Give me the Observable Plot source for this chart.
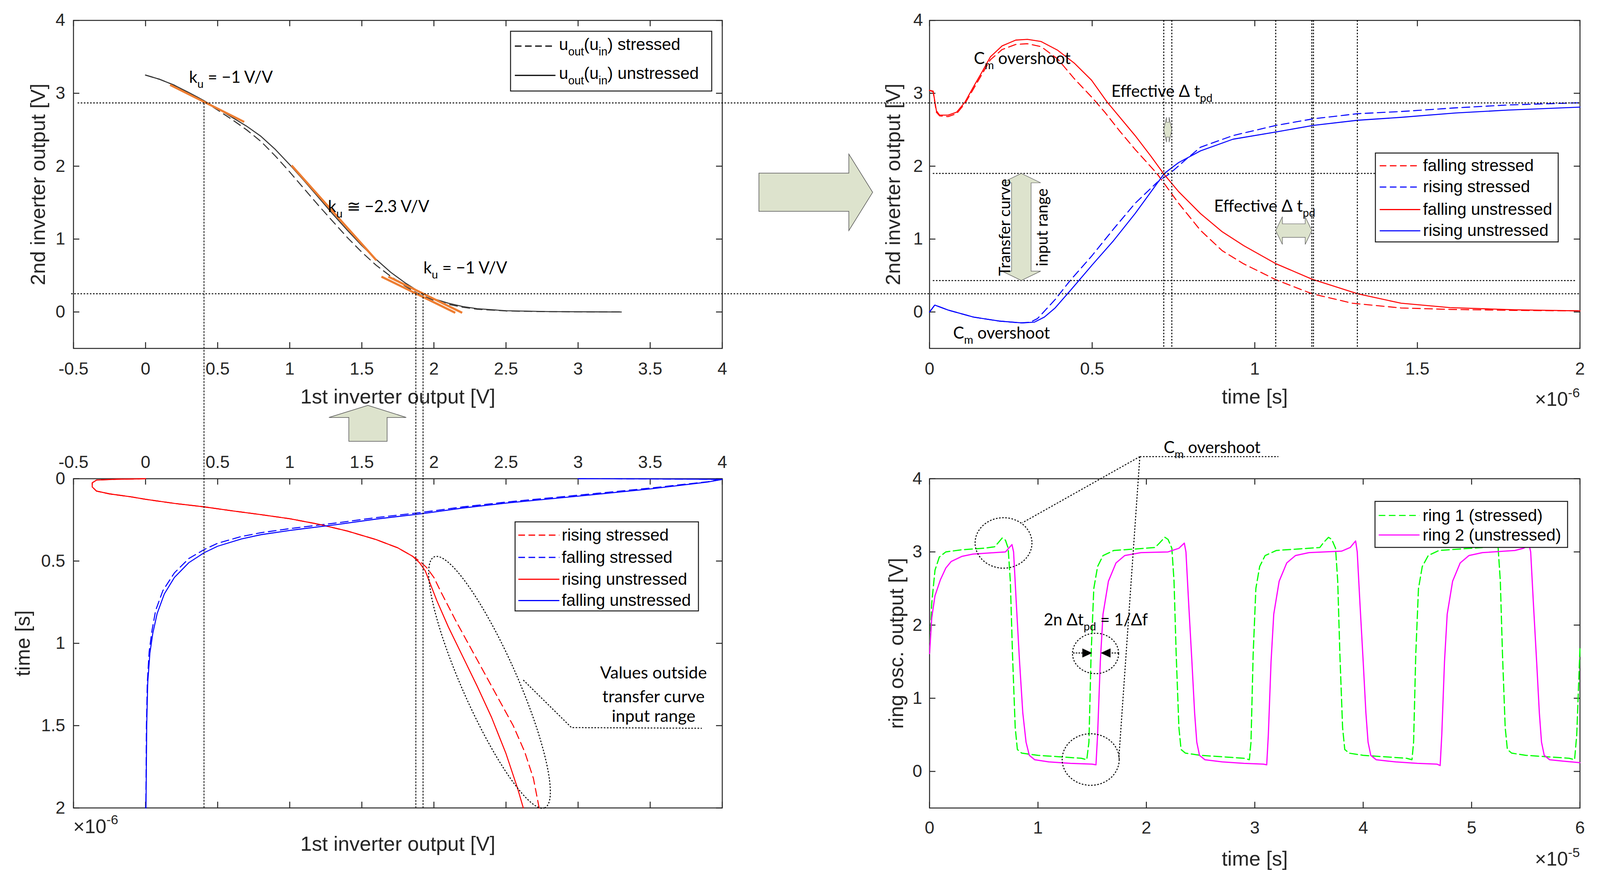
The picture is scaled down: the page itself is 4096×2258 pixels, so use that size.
<!DOCTYPE html>
<html><head><meta charset="utf-8">
<script src="https://cdn.jsdelivr.net/npm/d3@7"></script>
<script src="https://cdn.jsdelivr.net/npm/@observablehq/plot@0.6"></script>
<style>
html,body{margin:0;padding:0;background:#fff;}
#root{position:relative;width:4096px;height:2258px;overflow:hidden;background:#fff;}
#root svg{position:absolute;max-width:none;overflow:visible;}
</style></head><body><div id="root"></div>
<script>
// ---------- Panel 1: transfer curves ----------
const uIn = [0,0.1,0.2,0.3,0.4,0.5,0.6,0.7,0.8,0.9,1.0,1.1,1.2,1.3,1.4,1.5,1.6,1.7,1.8,1.9,2.0,2.1,2.2,2.3,2.5,2.8,3.3];
const uOutUnstressed = [3.25,3.19,3.11,3.01,2.905,2.79,2.67,2.55,2.41,2.23,2.02,1.80,1.57,1.34,1.12,0.91,0.72,0.545,0.40,0.275,0.18,0.12,0.075,0.045,0.017,0.005,0];
const uOutStressed   = [3.25,3.19,3.11,3.00,2.895,2.77,2.64,2.50,2.34,2.14,1.92,1.69,1.46,1.24,1.02,0.82,0.64,0.49,0.355,0.24,0.16,0.105,0.065,0.038,0.014,0.004,0];
const tangents = [
  {x1:0.17, y1:3.116, x2:0.684, y2:2.607},
  {x1:1.013, y1:2.01, x2:1.601, y2:0.709},
  {x1:1.636, y1:0.485, x2:2.148, y2:-0.011},
  {x1:1.684, y1:0.485, x2:2.196, y2:-0.011}
];
const p1xTicks = [-0.5,0,0.5,1,1.5,2,2.5,3,3.5,4];
const p1yTicks = [0,1,2,3,4];

// ---------- Panel 2: transients (time in 1e-6 s) ----------
const fallingUnstressed = [[0,3.04],[0.011,3.03],[0.021,2.76],[0.031,2.70],[0.057,2.70],[0.083,2.74],[0.109,2.88],[0.135,3.09],[0.161,3.29],[0.187,3.50],[0.223,3.65],[0.265,3.73],[0.301,3.74],[0.343,3.71],[0.394,3.59],[0.446,3.41],[0.498,3.18],[0.546,2.88],[0.602,2.58],[0.632,2.42],[0.68,2.14],[0.719,1.90],[0.766,1.65],[0.833,1.35],[0.9,1.10],[0.966,0.91],[1.066,0.66],[1.176,0.45],[1.316,0.25],[1.45,0.12],[1.6,0.06],[1.8,0.03],[2.0,0.015]];
const fallingStressed = [[0,3.04],[0.011,3.02],[0.021,2.74],[0.031,2.69],[0.057,2.68],[0.083,2.72],[0.109,2.86],[0.135,3.06],[0.161,3.26],[0.187,3.46],[0.223,3.60],[0.265,3.67],[0.301,3.68],[0.343,3.64],[0.394,3.47],[0.445,3.20],[0.5,2.94],[0.539,2.74],[0.585,2.48],[0.632,2.23],[0.699,1.90],[0.766,1.49],[0.833,1.12],[0.9,0.84],[0.966,0.66],[1.066,0.44],[1.176,0.25],[1.3,0.12],[1.45,0.055],[1.6,0.035],[1.8,0.022],[2.0,0.015]];
const risingUnstressed = [[0,0],[0.016,0.095],[0.057,0.026],[0.135,-0.07],[0.213,-0.124],[0.285,-0.15],[0.322,-0.14],[0.353,-0.07],[0.386,0.055],[0.432,0.29],[0.499,0.64],[0.566,0.98],[0.632,1.35],[0.722,1.90],[0.745,1.98],[0.766,2.05],[0.833,2.21],[0.933,2.37],[1.066,2.47],[1.18,2.56],[1.316,2.63],[1.45,2.67],[1.617,2.73],[1.78,2.77],[2.0,2.81]];
const risingStressed = [[0,0],[0.016,0.095],[0.057,0.026],[0.135,-0.07],[0.213,-0.124],[0.28,-0.15],[0.31,-0.14],[0.332,-0.09],[0.386,0.17],[0.432,0.43],[0.499,0.77],[0.566,1.14],[0.632,1.49],[0.7,1.78],[0.739,1.90],[0.785,2.08],[0.833,2.26],[0.933,2.42],[1.066,2.56],[1.18,2.65],[1.316,2.72],[1.45,2.75],[1.617,2.80],[1.78,2.84],[2.0,2.87]];
const p2xTicks = [0,0.5,1,1.5,2];
const p2yTicks = [0,1,2,3,4];
const p2Verticals = [0.7207,0.7455,1.065,1.176,1.181,1.316];

// ---------- Panel 3: 1st inverter output vs time ----------
const p3RisingUnstressed = [[0,0],[-0.2,0.003],[-0.34,0.008],[-0.37,0.025],[-0.37,0.05],[-0.34,0.075],[-0.25,0.092],[-0.1,0.11],[0,0.125],[0.2,0.15],[0.407,0.171],[0.6,0.195],[0.8,0.218],[1.0,0.243],[1.2,0.276],[1.4,0.318],[1.6,0.37],[1.75,0.42],[1.85,0.47],[1.9,0.51],[1.94,0.56],[1.98,0.65],[2.02,0.74],[2.1,0.9],[2.2,1.08],[2.3,1.26],[2.4,1.45],[2.5,1.67],[2.58,1.88],[2.62,2.0]];
const p3RisingStressed = [[0,0],[-0.2,0.003],[-0.34,0.008],[-0.37,0.025],[-0.37,0.05],[-0.34,0.075],[-0.25,0.092],[-0.1,0.11],[0,0.125],[0.2,0.15],[0.407,0.171],[0.6,0.195],[0.8,0.218],[1.0,0.243],[1.2,0.276],[1.4,0.318],[1.6,0.37],[1.75,0.42],[1.85,0.47],[1.9,0.5],[1.95,0.54],[2.0,0.6],[2.05,0.69],[2.15,0.86],[2.25,1.02],[2.35,1.18],[2.45,1.34],[2.55,1.5],[2.63,1.66],[2.69,1.82],[2.73,2.0]];
const p3FallingUnstressed = [[3.0,0],[3.5,0.001],[4.0,0.004],[3.9,0.02],[3.5,0.062],[3.0,0.106],[2.5,0.148],[2.2,0.178],[1.92,0.212],[1.6,0.245],[1.33,0.278],[1.0,0.314],[0.8,0.34],[0.665,0.366],[0.5,0.41],[0.407,0.449],[0.3,0.51],[0.2,0.6],[0.13,0.7],[0.08,0.82],[0.05,0.94],[0.03,1.06],[0.015,1.24],[0.008,1.5],[0.003,2.0]];
const p3FallingStressed = [[3.0,0],[3.5,0.001],[4.0,0.004],[3.9,0.018],[3.5,0.057],[3.0,0.1],[2.5,0.142],[2.2,0.171],[1.92,0.204],[1.6,0.236],[1.33,0.268],[1.0,0.303],[0.8,0.328],[0.665,0.351],[0.5,0.392],[0.407,0.43],[0.3,0.485],[0.2,0.572],[0.12,0.68],[0.07,0.8],[0.045,0.92],[0.025,1.05],[0.012,1.24],[0.006,1.5],[0.002,2.0]];
const p3xTicks = [-0.5,0,0.5,1,1.5,2,2.5,3,3.5,4];
const p3yTicks = [0,0.5,1,1.5,2];

// ---------- Panel 4: ring oscillators (time in 1e-5 s) ----------
const ring1 = [[0,1.61],[0.02,2.3],[0.05,2.75],[0.09,2.93],[0.15,3.0],[0.3,3.03],[0.5,3.05],[0.6,3.07],[0.63,3.12],[0.67,3.19],[0.7,3.16],[0.725,3.05],
 [0.745,2.6],[0.765,1.6],[0.79,0.6],[0.81,0.3],[0.85,0.25],[1.0,0.22],[1.2,0.2],[1.4,0.18],[1.45,0.16],
 [1.47,0.4],[1.49,1.6],[1.515,2.5],[1.55,2.8],[1.6,2.95],[1.7,3.02],[1.9,3.04],[2.08,3.06],[2.12,3.12],[2.17,3.2],[2.2,3.17],[2.235,3.05],
 [2.255,2.6],[2.275,1.6],[2.3,0.6],[2.32,0.3],[2.36,0.25],[2.5,0.22],[2.7,0.2],[2.9,0.18],[2.95,0.16],
 [2.965,0.4],[2.985,1.6],[3.01,2.5],[3.045,2.8],[3.095,2.95],[3.2,3.02],[3.4,3.04],[3.6,3.06],[3.63,3.12],[3.68,3.2],[3.71,3.17],[3.745,3.05],
 [3.765,2.6],[3.785,1.6],[3.81,0.6],[3.83,0.3],[3.87,0.25],[4.0,0.22],[4.2,0.2],[4.4,0.18],[4.45,0.16],
 [4.465,0.4],[4.485,1.6],[4.51,2.5],[4.545,2.8],[4.6,2.95],[4.7,3.02],[4.9,3.04],[5.1,3.06],[5.13,3.12],[5.18,3.2],[5.21,3.17],[5.245,3.05],
 [5.265,2.6],[5.285,1.6],[5.31,0.6],[5.33,0.3],[5.37,0.25],[5.5,0.22],[5.7,0.2],[5.9,0.18],[5.95,0.16],
 [5.97,0.5],[5.99,1.3],[6.0,1.7]];
const ring2 = [[0,1.61],[0.02,2.1],[0.05,2.4],[0.1,2.62],[0.15,2.78],[0.2,2.87],[0.3,2.94],[0.4,2.97],[0.6,2.99],[0.7,3.0],[0.73,3.05],[0.76,3.1],[0.775,3.0],
 [0.8,2.3],[0.83,1.5],[0.86,0.8],[0.89,0.4],[0.92,0.22],[0.97,0.16],[1.1,0.13],[1.3,0.11],[1.5,0.1],[1.535,0.09],
 [1.55,0.5],[1.575,1.5],[1.6,2.15],[1.65,2.6],[1.72,2.85],[1.8,2.95],[1.95,2.99],[2.2,3.0],[2.3,3.05],[2.35,3.12],[2.365,3.0],
 [2.39,2.3],[2.42,1.5],[2.445,0.8],[2.465,0.4],[2.49,0.22],[2.54,0.16],[2.7,0.13],[2.9,0.11],[3.08,0.1],[3.11,0.09],
 [3.125,0.5],[3.15,1.5],[3.175,2.15],[3.225,2.6],[3.295,2.85],[3.375,2.95],[3.5,2.99],[3.8,3.01],[3.88,3.06],[3.93,3.15],[3.945,3.0],
 [3.97,2.3],[4.0,1.5],[4.025,0.8],[4.045,0.4],[4.07,0.22],[4.12,0.16],[4.3,0.13],[4.5,0.11],[4.68,0.1],[4.71,0.08],
 [4.725,0.5],[4.75,1.5],[4.775,2.15],[4.825,2.6],[4.895,2.85],[4.975,2.95],[5.1,2.99],[5.4,3.02],[5.48,3.05],[5.53,3.1],[5.545,3.0],
 [5.57,2.3],[5.6,1.5],[5.625,0.8],[5.645,0.4],[5.67,0.22],[5.72,0.16],[5.85,0.14],[6.0,0.12]];
const p4xTicks = [0,1,2,3,4,5,6];
const p4yTicks = [0,1,2,3,4];

// ---------- styling ----------
const FONT = "'Liberation Sans', Arial, Helvetica, sans-serif";
const AFONT = "Lato, 'Open Sans', sans-serif";
const AX = "#262626";
const TL = 15.5;
const TICKFS = 44.5, LABFS = 52.5;
const RED = "#ff0000", BLUE = "#0000ff", GREEN = "#00ff00", MAG = "#ff00ff", ORANGE = "#ed7d31";
const fmt = d => String(d);
const px = d => d[0], py = d => d[1];

function boxMarks(iw, ih, xt, yt) {
  return [
    Plot.tickX(xt, {x: d => d, insetTop: ih - TL, stroke: AX, strokeWidth: 2.5}),
    Plot.tickX(xt, {x: d => d, insetBottom: ih - TL, stroke: AX, strokeWidth: 2.5}),
    Plot.tickY(yt, {y: d => d, insetRight: iw - TL, stroke: AX, strokeWidth: 2.5}),
    Plot.tickY(yt, {y: d => d, insetLeft: iw - TL, stroke: AX, strokeWidth: 2.5}),
    Plot.frame({stroke: AX, strokeWidth: 2.5})
  ];
}
function xLabel(s, dy) { return Plot.text([s], {text: d => d, frameAnchor: "bottom", dy, textAnchor: "middle", lineAnchor: "bottom", fontSize: LABFS, fontFamily: FONT, fill: AX}); }
function yLabel(s, dx) { return Plot.text([s], {text: d => d, frameAnchor: "left", dx, rotate: -90, textAnchor: "middle", lineAnchor: "bottom", fontSize: LABFS, fontFamily: FONT, fill: AX}); }
const tickText = {tickSize: 0, tickFormat: fmt, label: null, fontSize: TICKFS, fontFamily: FONT, fill: AX};

// Panel 1
const G1 = {width: 2120, height: 1130, ml: 187.6, mr: 271.5, mt: 51.7, mb: 238.5};
const p1 = Plot.plot({
  width: G1.width, height: G1.height, marginLeft: G1.ml, marginRight: G1.mr, marginTop: G1.mt, marginBottom: G1.mb,
  x: {domain: [-0.5, 4]}, y: {domain: [-0.5, 4]},
  marks: [
    ...boxMarks(G1.width - G1.ml - G1.mr, G1.height - G1.mt - G1.mb, p1xTicks, p1yTicks),
    Plot.axisX(p1xTicks, {...tickText, anchor: "bottom", tickPadding: 35.5}),
    Plot.axisY(p1yTicks, {...tickText, anchor: "left", tickPadding: 21}),
    Plot.line(uIn, {x: d => d, y: (d, i) => uOutStressed[i], stroke: "#333", strokeWidth: 2.6, strokeDasharray: "20 12"}),
    Plot.line(uIn, {x: d => d, y: (d, i) => uOutUnstressed[i], stroke: "#333", strokeWidth: 2.6}),
    Plot.link(tangents, {x1: "x1", y1: "y1", x2: "x2", y2: "y2", stroke: ORANGE, strokeWidth: 5.5}),
    xLabel("1st inverter output [V]", 141),
    yLabel("2nd inverter output [V]", -73.6)
  ]
});

// Panel 2
const G2 = {width: 1976, height: 1130, ml: 259.2, mr: 51.7, mt: 51.7, mb: 238.5};
const p2 = Plot.plot({
  width: G2.width, height: G2.height, marginLeft: G2.ml, marginRight: G2.mr, marginTop: G2.mt, marginBottom: G2.mb,
  x: {domain: [0, 2]}, y: {domain: [-0.5, 4]},
  marks: [
    ...boxMarks(G2.width - G2.ml - G2.mr, G2.height - G2.mt - G2.mb, p2xTicks, p2yTicks),
    Plot.axisX(p2xTicks, {...tickText, anchor: "bottom", tickPadding: 35.5}),
    Plot.axisY(p2yTicks, {...tickText, anchor: "left", tickPadding: 17}),
    Plot.line(fallingStressed, {x: px, y: py, stroke: RED, strokeWidth: 2.6, strokeDasharray: "20 11"}),
    Plot.line(risingStressed, {x: px, y: py, stroke: BLUE, strokeWidth: 2.6, strokeDasharray: "20 11"}),
    Plot.line(fallingUnstressed, {x: px, y: py, stroke: RED, strokeWidth: 2.6}),
    Plot.line(risingUnstressed, {x: px, y: py, stroke: BLUE, strokeWidth: 2.6}),
    xLabel("time [s]", 141),
    yLabel("2nd inverter output [V]", -75.6)
  ]
});

// Panel 3
const G3 = {width: 2120, height: 1128, ml: 187.6, mr: 271.5, mt: 95.1, mb: 190.1};
const p3 = Plot.plot({
  width: G3.width, height: G3.height, marginLeft: G3.ml, marginRight: G3.mr, marginTop: G3.mt, marginBottom: G3.mb,
  x: {domain: [-0.5, 4]}, y: {domain: [0, 2], reverse: true},
  marks: [
    ...boxMarks(G3.width - G3.ml - G3.mr, G3.height - G3.mt - G3.mb, p3xTicks, p3yTicks),
    Plot.axisX(p3xTicks, {...tickText, anchor: "top", tickPadding: 27.5}),
    Plot.axisY(p3yTicks, {...tickText, anchor: "left", tickPadding: 21}),
    Plot.line(p3RisingStressed, {x: px, y: py, stroke: RED, strokeWidth: 2.6, strokeDasharray: "20 11"}),
    Plot.line(p3FallingStressed, {x: px, y: py, stroke: BLUE, strokeWidth: 2.6, strokeDasharray: "20 11"}),
    Plot.line(p3RisingUnstressed, {x: px, y: py, stroke: RED, strokeWidth: 2.6}),
    Plot.line(p3FallingUnstressed, {x: px, y: py, stroke: BLUE, strokeWidth: 2.6}),
    xLabel("1st inverter output [V]", 109.7),
    yLabel("time [s]", -112.6)
  ]
});

// Panel 4
const G4 = {width: 1976, height: 1128, ml: 259.2, mr: 51.7, mt: 95.1, mb: 189.9};
const p4 = Plot.plot({
  width: G4.width, height: G4.height, marginLeft: G4.ml, marginRight: G4.mr, marginTop: G4.mt, marginBottom: G4.mb,
  x: {domain: [0, 6]}, y: {domain: [-0.5, 4]},
  marks: [
    ...boxMarks(G4.width - G4.ml - G4.mr, G4.height - G4.mt - G4.mb, p4xTicks, p4yTicks),
    Plot.axisX(p4xTicks, {...tickText, anchor: "bottom", tickPadding: 34}),
    Plot.axisY(p4yTicks, {...tickText, anchor: "left", tickPadding: 19}),
    Plot.line(ring1, {x: px, y: py, stroke: GREEN, strokeWidth: 3, strokeDasharray: "20 9"}),
    Plot.line(ring2, {x: px, y: py, stroke: MAG, strokeWidth: 3}),
    xLabel("time [s]", 147.5),
    yLabel("ring osc. output [V]", -68)
  ]
});

const root = document.getElementById("root");
const offs = [[0,0],[2120,0],[0,1130],[2120,1130]];
[p1,p2,p3,p4].forEach((p,i) => { p.style.left = offs[i][0] + "px"; p.style.top = offs[i][1] + "px"; root.appendChild(p); });

const X1 = v => offs[0][0] + p1.scale("x").apply(v), Y1 = v => offs[0][1] + p1.scale("y").apply(v);
const X2 = v => offs[1][0] + p2.scale("x").apply(v), Y2 = v => offs[1][1] + p2.scale("y").apply(v);
const X3 = v => offs[2][0] + p3.scale("x").apply(v), Y3 = v => offs[2][1] + p3.scale("y").apply(v);
const X4 = v => offs[3][0] + p4.scale("x").apply(v), Y4 = v => offs[3][1] + p4.scale("y").apply(v);

// ---------- overlay annotations ----------
const ov = d3.select(root).append("svg").attr("width", 4096).attr("height", 2258).style("left", "0px").style("top", "0px");
function seg(x1, y1, x2, y2, w = 2.5, dash = "4 4") {
  ov.append("line").attr("x1", x1).attr("y1", y1).attr("x2", x2).attr("y2", y2)
    .attr("stroke", "#000").attr("stroke-width", w).attr("stroke-dasharray", dash);
}
function poly(pts, fill, stroke = "#555", w = 1.2) {
  ov.append("polygon").attr("points", pts.map(p => p.join(",")).join(" ")).attr("fill", fill).attr("stroke", stroke).attr("stroke-width", w);
}
function rich(x, y, parts, size, family, anchor = "start", fill = "#000", rotate = 0) {
  const t = ov.append("text").attr("x", x).attr("y", y).attr("font-size", size).attr("font-family", family)
    .attr("text-anchor", anchor).attr("fill", fill);
  if (rotate) t.attr("transform", `rotate(${rotate},${x},${y})`);
  let shift = 0;
  parts.forEach(p => {
    const sub = Array.isArray(p) ? p[1] : 0;
    const s = t.append("tspan").text(Array.isArray(p) ? p[0] : p);
    const target = sub === "sub" ? size * 0.32 : sub === "sup" ? -size * 0.45 : 0;
    if (target !== shift) { s.attr("dy", target - shift); shift = target; }
    if (sub) s.attr("font-size", size * 0.68);
  });
  return t;
}
const FILL = "#dde3cd";
function hDouble(x1, x2, cy, hh, bh, hl) {
  poly([[x1,cy],[x1+hl,cy-hh],[x1+hl,cy-bh],[x2-hl,cy-bh],[x2-hl,cy-hh],[x2,cy],[x2-hl,cy+hh],[x2-hl,cy+bh],[x1+hl,cy+bh],[x1+hl,cy+hh]], FILL);
}
function vDouble(cx, y1, y2, hh, bh, hl) {
  poly([[cx,y1],[cx+hh,y1+hl],[cx+bh,y1+hl],[cx+bh,y2-hl],[cx+hh,y2-hl],[cx,y2],[cx-hh,y2-hl],[cx-bh,y2-hl],[cx-bh,y1+hl],[cx-hh,y1+hl]], FILL);
}

// cross-panel reference lines
seg(X1(-0.47), Y1(2.865), X2(2), Y2(2.865));
seg(X1(-0.515), Y1(0.247), X2(2), Y2(0.247));
seg(X1(0.4067), Y1(2.865), X3(0.4067), Y3(2), 2, "5 3");
seg(X1(1.876), Y1(0.247), X3(1.876), Y3(2), 2, "5 3");
seg(X1(1.926), Y1(0.247), X3(1.926), Y3(2), 2, "5 3");
// panel 2 reference lines
p2Verticals.forEach(t => seg(X2(t), Y2(4), X2(t), Y2(-0.5)));
seg(X2(0.0105), Y2(1.898), X2(1.371), Y2(1.898));
seg(X2(0.0105), Y2(0.429), X2(1.99), Y2(0.429));

// big arrows between panels
poly([[1942.8,443.3],[2173,443.3],[2173,394.4],[2234,492.3],[2173,590.3],[2173,541.1],[1942.8,541.1]], FILL, "#555", 1.5);
poly([[941.9,1037.7],[1040,1068.7],[991,1068.7],[991,1129.7],[893,1129.7],[893,1068.7],[842,1068.7]], FILL, "#555", 1.5);

// panel 1 annotations
rich(484, 212, ["k", ["u","sub"], " = −1 V/V"], 42, AFONT);
rich(839.6, 543.3, ["k", ["u","sub"], " ≅ −2.3 V/V"], 42, AFONT);
rich(1084, 699.8, ["k", ["u","sub"], " = −1 V/V"], 42, AFONT);

// panel 2 annotations
rich(2493, 164, ["C", ["m","sub"], " overshoot"], 42, AFONT);
rich(2440, 866.6, ["C", ["m","sub"], " overshoot"], 42, AFONT);
rich(2845, 247.7, ["Effective Δ t", ["pd","sub"]], 42, AFONT);
rich(3108, 541.6, ["Effective Δ t", ["pd","sub"]], 42, AFONT);
vDouble(X2(0.2827), Y2(1.898), Y2(0.429), 49.5, 25, 24);
hDouble(X2(0.7207), X2(0.7455), Y2(2.498), 32, 19, 7);
hDouble(X2(1.065), X2(1.176), Y2(1.114), 35.5, 17.3, 17);
rich(2586, 582, ["Transfer curve"], 40, AFONT, "middle", "#000", -90);
rich(2682, 582, ["input range"], 40, AFONT, "middle", "#000", -90);

// panel 3 annotations
ov.append("ellipse").attr("cx", X3(2.387)).attr("cy", Y3(1.238)).attr("rx", 351).attr("ry", 70.7)
  .attr("transform", `rotate(66.2,${X3(2.387)},${Y3(1.238)})`)
  .attr("fill", "none").attr("stroke", "#000").attr("stroke-width", 2.5).attr("stroke-dasharray", "4 4");
ov.append("polyline").attr("points", "1339.7,1741 1463,1862.7 1796.6,1864.4").attr("fill", "none")
  .attr("stroke", "#000").attr("stroke-width", 2.5).attr("stroke-dasharray", "4 4");
rich(1673, 1737.4, ["Values outside"], 43, AFONT, "middle");
rich(1673, 1798.2, ["transfer curve"], 43, AFONT, "middle");
rich(1673, 1847.5, ["input range"], 43, AFONT, "middle");

// panel 4 annotations
[[0.684,3.12,72.8,64.6],[1.488,0.16,73,66],[1.533,1.61,59,51.7]].forEach(([t,v,rx,ry]) =>
  ov.append("ellipse").attr("cx", X4(t)).attr("cy", Y4(v)).attr("rx", rx).attr("ry", ry)
    .attr("fill", "none").attr("stroke", "#000").attr("stroke-width", 2.5).attr("stroke-dasharray", "4 4"));
seg(2918, 1169, 3272.6, 1169);
seg(2918, 1169, 2617.2, 1338.4);
seg(2918, 1169, 2864.2, 1941.6);
rich(2979, 1159.6, ["C", ["m","sub"], " overshoot"], 42, AFONT);
rich(2672, 1601, ["2n Δt", ["pd","sub"], " = 1/Δf"], 42, AFONT);
{
  const ay = Y4(1.616), tr = X4(1.498), tl = X4(1.584);
  seg(X4(1.325), ay, tr - 20, ay, 2.5, "4 3");
  poly([[tr,ay],[tr-23.7,ay-11],[tr-23.7,ay+11]], "#000", "#000", 1);
  seg(tl + 20, ay, X4(1.748), ay, 2.5, "4 3");
  poly([[tl,ay],[tl+23.7,ay-11],[tl+23.7,ay+11]], "#000", "#000", 1);
}

// exponent labels
rich(X2(2), 1039, ["×10", ["-6","sup"]], 50, FONT, "end", AX);
rich(X3(-0.5), 2132.5, ["×10", ["-6","sup"]], 50, FONT, "start", AX);
rich(X4(6), 2216, ["×10", ["-5","sup"]], 50, FONT, "end", AX);

// legends
function legend(box, lx1, lx2, tx, rows) {
  ov.append("rect").attr("x", box[0]).attr("y", box[1]).attr("width", box[2] - box[0]).attr("height", box[3] - box[1])
    .attr("fill", "#fff").attr("stroke", "#1a1a1a").attr("stroke-width", 2.5);
  rows.forEach(r => {
    ov.append("line").attr("x1", lx1).attr("x2", lx2).attr("y1", r.y).attr("y2", r.y)
      .attr("stroke", r.color).attr("stroke-width", 2.8).attr("stroke-dasharray", r.dash ? "17 9" : null);
    rich(tx, r.b, r.parts, 42.5, FONT, "start", "#000");
  });
}
legend([1307,80,1822,233], 1318, 1422, 1431, [
  {y: 118, b: 128, color: "#000", dash: true, parts: ["u", ["out","sub"], "(u", ["in","sub"], ") stressed"]},
  {y: 193, b: 202, color: "#000", dash: false, parts: ["u", ["out","sub"], "(u", ["in","sub"], ") unstressed"]}
]);
legend([3521,391.8,3989,619.3], 3532, 3636, 3643, [
  {y: 424.4, b: 438, color: RED, dash: true, parts: ["falling stressed"]},
  {y: 478.8, b: 492.4, color: BLUE, dash: true, parts: ["rising stressed"]},
  {y: 536.5, b: 550.1, color: RED, dash: false, parts: ["falling unstressed"]},
  {y: 590.8, b: 604.4, color: BLUE, dash: false, parts: ["rising unstressed"]}
]);
legend([1318.6,1336,1788,1564], 1327, 1432, 1438, [
  {y: 1370, b: 1383.6, color: RED, dash: true, parts: ["rising stressed"]},
  {y: 1427, b: 1440.6, color: BLUE, dash: true, parts: ["falling stressed"]},
  {y: 1483, b: 1496.6, color: RED, dash: false, parts: ["rising unstressed"]},
  {y: 1537.5, b: 1551.1, color: BLUE, dash: false, parts: ["falling unstressed"]}
]);
legend([3520,1283.6,4013,1401.4], 3529.5, 3634, 3642, [
  {y: 1319.7, b: 1333.7, color: GREEN, dash: true, parts: ["ring 1 (stressed)"]},
  {y: 1369.7, b: 1383.7, color: MAG, dash: false, parts: ["ring 2 (unstressed)"]}
]);
</script></body></html>
